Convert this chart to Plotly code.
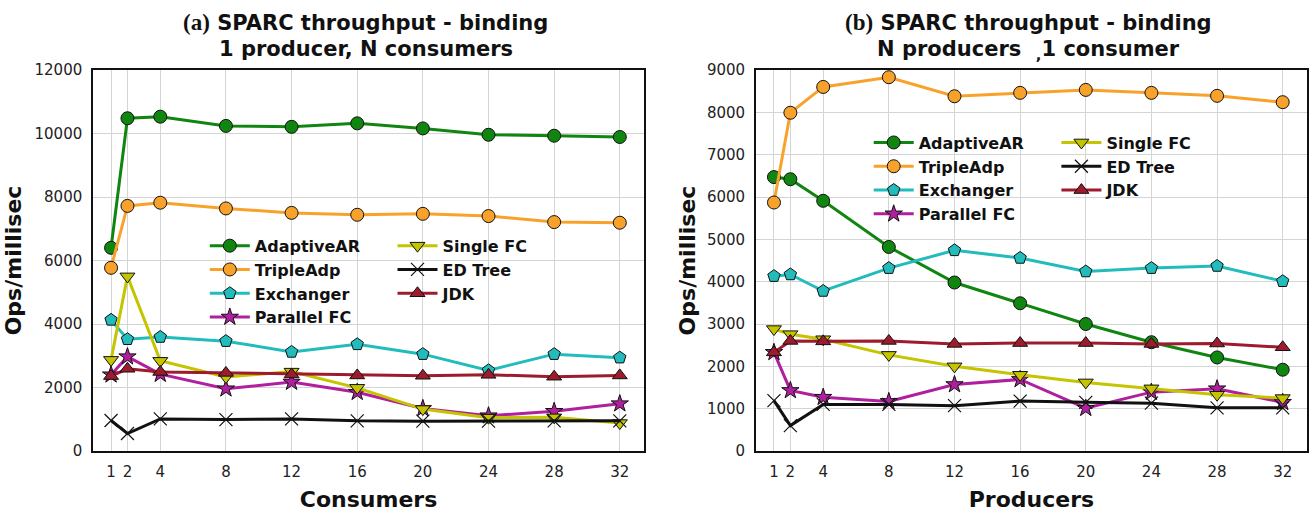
import plotly.graph_objects as go

# ---------------- data ----------------
threads = [1, 2, 4, 8, 12, 16, 20, 24, 28, 32]
tick_labels = ["1", "2", "4", "8", "12", "16", "20", "24", "28", "32"]
yticks_a = [0, 2000, 4000, 6000, 8000, 10000, 12000]
yticks_b = [0, 1000, 2000, 3000, 4000, 5000, 6000, 7000, 8000, 9000]

# (a) 1 producer, N consumers
adaptive_a = [6400, 10480, 10530, 10240, 10210, 10320, 10160, 9960, 9930, 9890]
triple_a = [5770, 7720, 7820, 7640, 7500, 7440, 7470, 7400, 7210, 7190]
exch_a = [4130, 3520, 3590, 3460, 3120, 3360, 3050, 2540, 3050, 2940]
pfc_a = [2400, 2970, 2420, 1960, 2170, 1850, 1340, 1110, 1250, 1490]
sfc_a = [2870, 5500, 2840, 2330, 2500, 1990, 1320, 1050, 1060, 880]
edtree_a = [960, 550, 1010, 990, 1010, 950, 940, 940, 950, 950]
jdk_a = [2360, 2590, 2490, 2460, 2410, 2380, 2370, 2400, 2340, 2380]

# (b) N producers, 1 consumer
adaptive_b = [6470, 6420, 5910, 4820, 3980, 3490, 3000, 2570, 2210, 1920]
triple_b = [5870, 7990, 8600, 8830, 8380, 8460, 8530, 8460, 8390, 8240]
exch_b = [4130, 4170, 3780, 4320, 4740, 4560, 4240, 4320, 4370, 4010]
pfc_b = [2330, 1430, 1270, 1170, 1570, 1690, 1010, 1390, 1470, 1150]
sfc_b = [2880, 2760, 2640, 2270, 2000, 1800, 1620, 1480, 1330, 1250]
edtree_b = [1190, 600, 1100, 1100, 1070, 1180, 1150, 1130, 1020, 1020]
jdk_b = [2330, 2600, 2590, 2600, 2530, 2550, 2550, 2530, 2540, 2450]

names = ["AdaptiveAR", "TripleAdp", "Exchanger", "Parallel FC", "Single FC", "ED Tree", "JDK"]
series_a = [adaptive_a, triple_a, exch_a, pfc_a, sfc_a, edtree_a, jdk_a]
series_b = [adaptive_b, triple_b, exch_b, pfc_b, sfc_b, edtree_b, jdk_b]

# ---------------- styles ----------------
colors = ["#108510", "#f8a22c", "#22bcbc", "#b01f9e", "#c4c400", "#111111", "#9e1b2e"]
symbols = ["circle", "circle", "pentagon", "star", "triangle-down", "x-thin", "triangle-up"]
msizes = [13, 13, 13, 13, 13, 13, 13]
col_of = [0, 0, 0, 0, 1, 1, 1]  # legend column

FONT = "DejaVu Sans"

fig = go.Figure()

for panel, series in enumerate([series_a, series_b]):
    xa = "x" if panel == 0 else "x2"
    ya = "y" if panel == 0 else "y2"
    for i, (nm, ys) in enumerate(zip(names, series)):
        leg_idx = panel * 2 + col_of[i] + 1
        leg = "legend" if leg_idx == 1 else "legend%d" % leg_idx
        if symbols[i] == "x-thin":
            marker = dict(symbol="x-thin", size=13, color=colors[i],
                          line=dict(color=colors[i], width=1.2))
        else:
            marker = dict(symbol=symbols[i], size=msizes[i], color=colors[i],
                          line=dict(color="#111111", width=1))
        fig.add_trace(go.Scatter(
            x=threads, y=ys, name=nm, mode="lines+markers",
            line=dict(color=colors[i], width=3),
            marker=marker, xaxis=xa, yaxis=ya, legend=leg, showlegend=True,
        ))

W, H = 1311, 512
ML, MR, MT, MB = 93, 2, 70, 58
PW = W - ML - MR
PH = H - MT - MB


def px(xpix):
    return (xpix - ML) / PW


def py(ypix):
    return (H - MB - ypix) / PH


axis_common = dict(
    showline=True, linecolor="#111111", linewidth=1.5, mirror=True,
    showgrid=True, gridcolor="#d4d4d4", gridwidth=1,
    zeroline=False, ticks="", ticklabelstandoff=6,
    tickfont=dict(family=FONT, size=15, color="#222222"),
)

xcommon = dict(axis_common, tickmode="array", tickvals=threads, ticktext=tick_labels,
               range=[-0.1, 33.48])

legend_common = dict(
    bgcolor="rgba(0,0,0,0)", borderwidth=0, orientation="v",
    font=dict(family=FONT, size=16, color="#111111", weight="bold"),
    xanchor="left", yanchor="top", tracegroupgap=0, itemwidth=40,
    traceorder="normal",
)

title_font = dict(family=FONT, size=22, color="#111111", weight="bold")

fig.update_layout(
    width=W, height=H,
    margin=dict(l=ML, r=MR, t=MT, b=MB),
    paper_bgcolor="white", plot_bgcolor="white",
    xaxis=dict(xcommon, domain=[0, px(645)], anchor="y",
               title=dict(text="Consumers", font=title_font, standoff=14)),
    yaxis=dict(axis_common, domain=[0, 1], anchor="x", range=[0, 12000],
               tickmode="array", tickvals=yticks_a, ticktext=[str(v) for v in yticks_a],
               title=dict(text="Ops/millisec", font=title_font, standoff=7)),
    xaxis2=dict(xcommon, domain=[px(757), 1], anchor="y2",
                title=dict(text="Producers", font=title_font, standoff=14)),
    yaxis2=dict(axis_common, domain=[0, 1], anchor="x2", range=[0, 9000],
                tickmode="array", tickvals=yticks_b, ticktext=[str(v) for v in yticks_b],
                title=dict(text="Ops/millisec", font=title_font, standoff=5)),
    legend=dict(legend_common, x=px(205), y=py(230)),
    legend2=dict(legend_common, x=px(393), y=py(230)),
    legend3=dict(legend_common, x=px(870), y=py(126)),
    legend4=dict(legend_common, x=px(1058), y=py(126)),
    showlegend=True,
)

serif = "<span style='font-family:Liberation Serif;font-size:23px'>%s</span>"
title_lines = [
    (px(366), py(8), serif % "(a)" + " SPARC throughput - binding"),
    (px(366), py(35), "1 producer, N consumers"),
    (px(1030), py(8), serif % "(b)" + " SPARC throughput - binding"),
    (px(1030), py(35), "N producers  <sub>,</sub>1 consumer"),
]
for xc, yc, txt in title_lines:
    fig.add_annotation(
        x=xc, y=yc, xref="paper", yref="paper", xanchor="center", yanchor="top",
        text=txt, showarrow=False,
        font=dict(family=FONT, size=21, color="#111111", weight="bold"),
    )

fig.write_html("out.html")
